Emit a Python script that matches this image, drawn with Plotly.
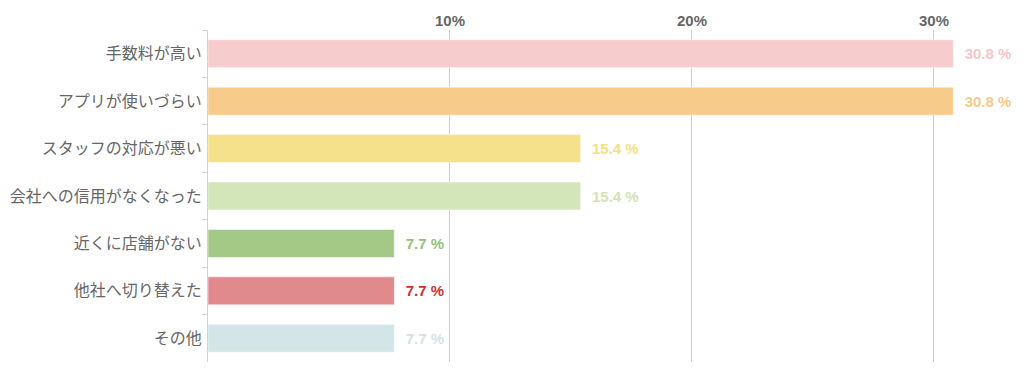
import plotly.graph_objects as go

categories = ["手数料が高い", "アプリが使いづらい", "スタッフの対応が悪い",
              "会社への信用がなくなった", "近くに店舗がない", "他社へ切り替えた", "その他"]
values = [30.8, 30.8, 15.4, 15.4, 7.7, 7.7, 7.7]
labels = ["30.8 %", "30.8 %", "15.4 %", "15.4 %", "7.7 %", "7.7 %", "7.7 %"]
bar_colors = ["#f7cccd", "#f7cc8a", "#f5e08c", "#d3e6b9", "#a3c986", "#e08a8b", "#d3e5e7"]
text_colors = ["#f7c6c8", "#f7c98a", "#f5de85", "#d0e4b5", "#94c17c", "#d0302a", "#cfe3e5"]
tick_vals = [10, 20, 30]
tick_text = ["10%", "20%", "30%"]

fig = go.Figure(go.Bar(
    x=values, y=categories, orientation="h",
    marker=dict(color=bar_colors, line=dict(color="rgba(255,255,255,0.5)", width=1)),
    text=labels, texttemplate="  %{text}", textposition="outside", cliponaxis=False,
    textfont=dict(color=text_colors, size=15, family="Liberation Sans, Arial, sans-serif", weight="bold"),
    hoverinfo="skip",
))

# page body has an 8px default margin, so the figure is sized/offset accordingly
fig.update_layout(
    width=1016, height=384,
    margin=dict(l=200, r=15, t=22, b=30),
    paper_bgcolor="white", plot_bgcolor="white",
    bargap=0.41, showlegend=False,
    font=dict(family="Noto Sans CJK JP, sans-serif", color="#666666"),
)
fig.update_xaxes(
    range=[0, 33.1], side="top", tickvals=tick_vals, ticktext=tick_text,
    showgrid=True, gridcolor="#cccccc", gridwidth=1, zeroline=False,
    showline=False, ticks="", automargin=False,
    tickfont=dict(family="Liberation Sans, Arial, sans-serif", size=15, color="#666666", weight="bold"),
)
fig.update_yaxes(
    autorange="reversed", showline=True, linecolor="#c8d4e8", linewidth=1,
    ticks="outside", ticklen=5, tickcolor="#c8d4e8", tickson="boundaries",
    showgrid=False, zeroline=False, automargin=False,
    tickfont=dict(family="Noto Sans CJK JP, sans-serif", size=16, color="#666666"),
    ticklabelstandoff=2,
)

fig.write_html("out.html")
